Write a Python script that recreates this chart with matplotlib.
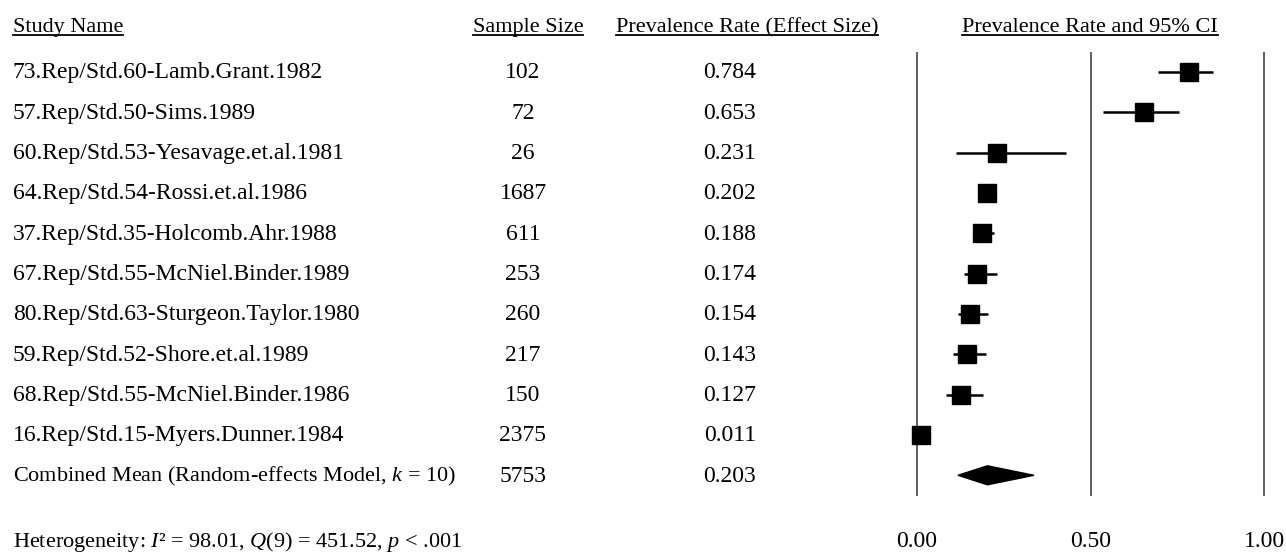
import matplotlib
matplotlib.use("Agg")
import matplotlib.pyplot as plt
from matplotlib.patches import Polygon
from matplotlib.lines import Line2D
from matplotlib import transforms

plt.rcParams["font.family"] = ["Liberation Serif", "DejaVu Serif"]
plt.rcParams["mathtext.fontset"] = "custom"
plt.rcParams["mathtext.rm"] = "Liberation Serif"
plt.rcParams["mathtext.it"] = "Liberation Serif:italic"

# ---- data ----
studies = ["73.Rep/Std.60-Lamb.Grant.1982", "57.Rep/Std.50-Sims.1989",
           "60.Rep/Std.53-Yesavage.et.al.1981", "64.Rep/Std.54-Rossi.et.al.1986",
           "37.Rep/Std.35-Holcomb.Ahr.1988", "67.Rep/Std.55-McNiel.Binder.1989",
           "80.Rep/Std.63-Sturgeon.Taylor.1980", "59.Rep/Std.52-Shore.et.al.1989",
           "68.Rep/Std.55-McNiel.Binder.1986", "16.Rep/Std.15-Myers.Dunner.1984"]
sample_size = [102, 72, 26, 1687, 611, 253, 260, 217, 150, 2375]
prevalence = [0.784, 0.653, 0.231, 0.202, 0.188, 0.174, 0.154, 0.143, 0.127, 0.011]
ci_low = [0.694, 0.536, 0.112, 0.186, 0.161, 0.135, 0.118, 0.104, 0.083, 0.007]
ci_high = [0.853, 0.755, 0.430, 0.220, 0.222, 0.230, 0.204, 0.198, 0.190, 0.016]

combined_label = "Combined Mean (Random-effects Model, $k$ = 10)"
combined_n = 5753
combined_rate = 0.203
combined_lo = 0.118
combined_hi = 0.337

headers = ["Study Name", "Sample Size", "Prevalence Rate (Effect Size)",
           "Prevalence Rate and 95% CI"]
ref_lines = [0.0, 0.5, 1.0]
tick_labels = ["0.00", "0.50", "1.00"]
heterogeneity = "Heterogeneity: $I$² = 98.01, $Q$(9) = 451.52, $p$ < .001"

# ---- layout (pixels of a 1286x552 canvas) ----
W, H = 1286, 552
x0_px, unit_px = 917, 347          # where 0.0 sits and how wide 1.0 is
row0_px, row_px = 72, 40.33        # first row centre and row spacing

fig = plt.figure(figsize=(W / 100, H / 100), dpi=100)
ax = fig.add_axes([0, 0, 1, 1])
ax.set_xlim(-x0_px / unit_px, (W - x0_px) / unit_px)
ax.set_ylim((H - row0_px) / row_px, -row0_px / row_px)
ax.axis("off")

# x in figure fraction, y in data rows
tr = transforms.blended_transform_factory(fig.transFigure, ax.transData)
base = 6.5 / row_px  # baseline offset below row centre
fs = 17

n = len(studies)
rows = list(range(n))

for i in rows:
    ax.text(13 / W, i + base, studies[i], transform=tr, fontsize=fs, va="baseline", ha="left")
    ax.text(523 / W, i + base, str(sample_size[i]), transform=tr, fontsize=fs, va="baseline", ha="center")
    ax.text(730 / W, i + base, f"{prevalence[i]:.3f}", transform=tr, fontsize=fs, va="baseline", ha="center")

ax.text(13 / W, n + base, combined_label, transform=tr, fontsize=16, va="baseline", ha="left")
ax.text(523 / W, n + base, str(combined_n), transform=tr, fontsize=fs, va="baseline", ha="center")
ax.text(730 / W, n + base, f"{combined_rate:.3f}", transform=tr, fontsize=fs, va="baseline", ha="center")

# reference lines
ax.vlines(ref_lines, -0.5, n + 0.51, color="#555555", lw=1.3, zorder=1)

# CIs and squares
ax.hlines(rows, ci_low, ci_high, color="black", lw=1.8, zorder=2)
ax.plot(prevalence, rows, "s", color="black", markersize=13, zorder=3)

# combined diamond
h = 9.5 / row_px
ax.add_patch(Polygon([(combined_lo, n), (combined_rate, n - h), (combined_hi, n),
                      (combined_rate, n + h)], closed=True, color="black", zorder=3))

# headers (underlined)
head_x = [(13, "left"), (528, "center"), (747, "center"), (1090, "center")]
head_y = 1 - 32 / H
head_texts = []
for (px, ha), label in zip(head_x, headers):
    t = fig.text(px / W, head_y, label, fontsize=16, ha=ha, va="baseline")
    head_texts.append(t)

# bottom row
fig.text(13 / W, 1 - 547 / H, heterogeneity, fontsize=16, ha="left", va="baseline")
tr_x = transforms.blended_transform_factory(ax.transData, fig.transFigure)
for v, lab in zip(ref_lines, tick_labels):
    ax.text(v, 1 - 547 / H, lab, transform=tr_x, fontsize=fs, ha="center", va="baseline")

fig.canvas.draw()
renderer = fig.canvas.get_renderer()
for t in head_texts:
    bb = t.get_window_extent(renderer)
    yy = 1 - 34.5 / H
    fig.add_artist(Line2D([bb.x0 / W, bb.x1 / W], [yy, yy], color="black", lw=1.3,
                          transform=fig.transFigure))

fig.savefig("out.png", dpi=100)
